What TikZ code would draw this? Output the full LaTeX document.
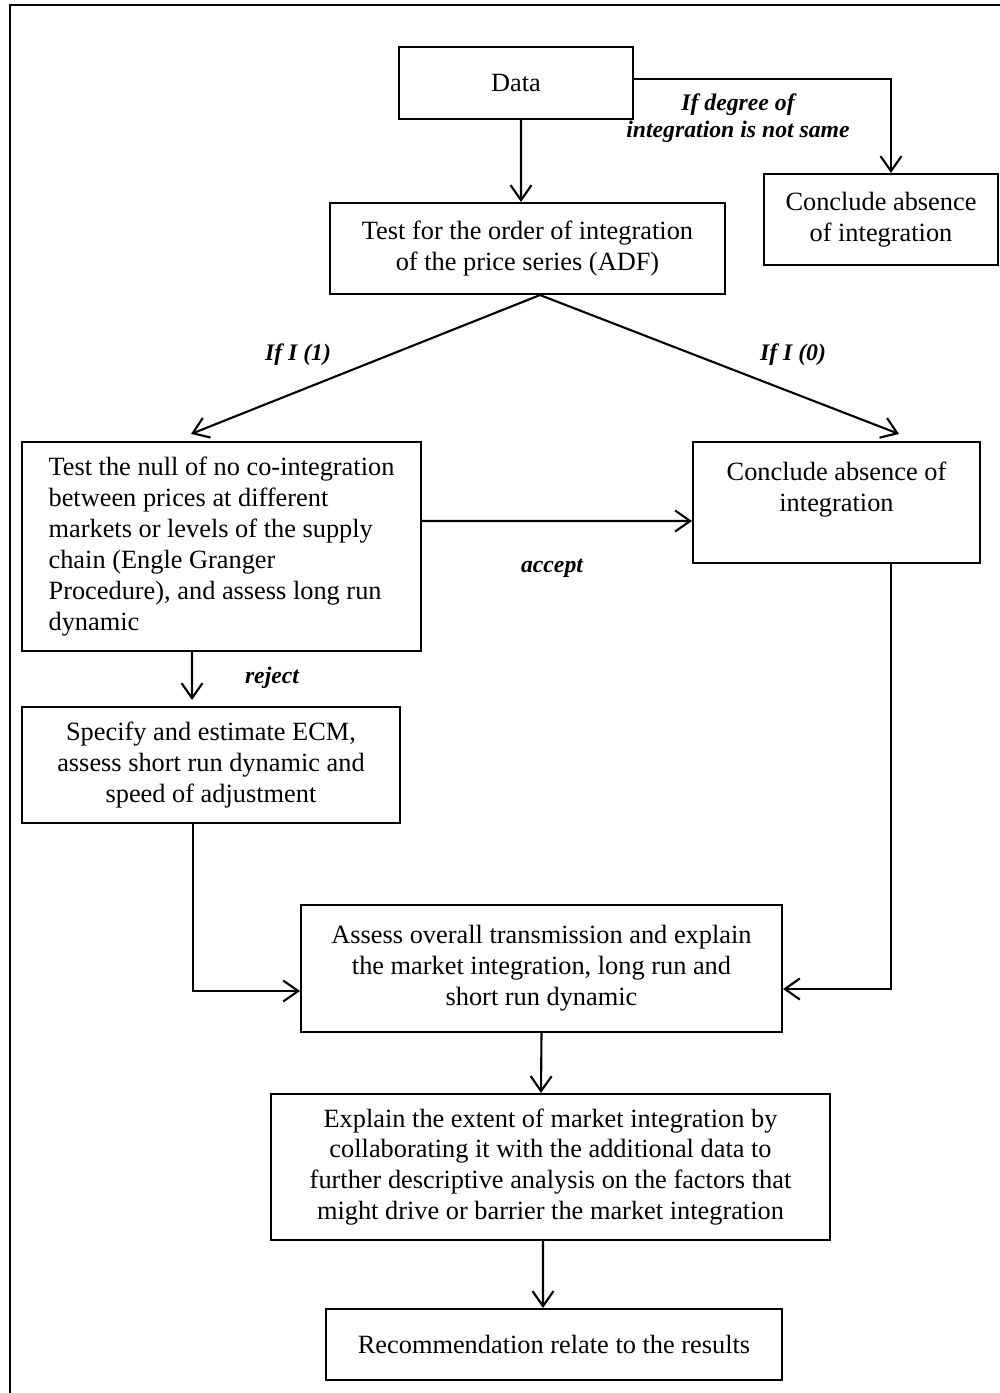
\documentclass[tikz,border=0pt]{standalone}
\usepackage{fontspec}
\setmainfont{Liberation Serif}
\usepackage{tikz}
\usetikzlibrary{arrows.meta, positioning, calc}

\begin{document}
\begin{tikzpicture}[x=0.02cm, y=-0.02cm,
    box/.style={draw, line width=1.2pt, align=center, inner sep=0pt, font=\fontsize{15}{17.6}\selectfont},
    lbl/.style={align=center, font=\fontsize{13.5}{15.5}\selectfont\bfseries\itshape},
    arr/.style={->, line width=1.2pt},
    >={Straight Barb[length=0.3cm, width=0.42cm]}]

        \useasboundingbox (0,0) rectangle (1000,1393);

        % Outer frame
        \draw[line width=1.4pt] (10,1400) -- (10,5) -- (1010,5);

        % Data
        \node[box, minimum width=4.68cm, minimum height=1.44cm] (data) at (516, 83) {Data};

        % Conclude absence (top right)
        \node[box, minimum width=4.68cm, minimum height=1.82cm] (absent1) at (881, 219.5) {Conclude absence\\of integration};
        \draw[arr] ([yshift=0.08cm]data.east) -| ([xshift=0.2cm]absent1.north);
        \node[lbl] (lblnotsame) at (738, 118) {If degree of\\integration is not same};

        % ADF test
        \node[box, minimum width=7.9cm, minimum height=1.82cm] (adf) at (527.5, 248.5) {Test for the order of integration\\of the price series (ADF)};
        \draw[arr] ([xshift=0.1cm]data.south) -- ([xshift=-0.13cm]adf.north);

        % Co-integration test
        \node[box, align=left, minimum width=7.98cm, minimum height=4.18cm] (coint) at (221.5, 546.5) {Test the null of no co-integration\\between prices at different\\markets or levels of the supply\\chain (Engle Granger\\Procedure), and assess long run\\dynamic};
        \draw[arr] ([xshift=0.25cm]adf.south) -- ([xshift=-0.61cm, yshift=0.14cm]coint.north);
        \node[lbl] (lblone) at (298, 355) {If I (1)};

        % Conclude absence (middle right)
        \node[box, minimum width=5.74cm, minimum height=2.42cm] (absent2) at (836.5, 502.5) {Conclude absence of\\integration\\\mbox{}};
        \draw[arr] ([xshift=0.25cm]adf.south) -- ([xshift=1.25cm, yshift=0.14cm]absent2.north);
        \node[lbl] (lblzero) at (793, 355) {If I (0)};

        % accept
        \draw[arr] ([yshift=0.51cm]coint.east) -- ([yshift=-0.37cm]absent2.west);
        \node[lbl] (lblaccept) at (552, 568) {accept};

        % ECM
        \node[box, minimum width=7.56cm, minimum height=2.32cm] (ecm) at (211, 765) {Specify and estimate ECM,\\assess short run dynamic and\\speed of adjustment};
        \draw[arr] ([xshift=-0.59cm]coint.south) -- ([xshift=-0.38cm, yshift=0.12cm]ecm.north);
        \node[lbl] (lblreject) at (272, 678) {reject};

        % Overall transmission
        \node[box, minimum width=9.62cm, minimum height=2.54cm] (assess) at (541.5, 968.5) {Assess overall transmission and explain\\the market integration, long run and\\short run dynamic};
        \draw[arr] ([xshift=-0.36cm]ecm.south) |- ([yshift=-0.45cm]assess.west);
        \draw[arr] ([xshift=1.09cm]absent2.south) |- ([yshift=-0.41cm]assess.east);

        % Extent of integration
        \node[box, minimum width=11.18cm, minimum height=2.92cm] (explain) at (550.5, 1167) {Explain the extent of market integration by\\collaborating it with the additional data to\\further descriptive analysis on the factors that\\might drive or barrier the market integration};
        \draw[arr] (assess.south) -- ([xshift=-0.19cm]explain.north);

        % Recommendation
        \node[box, minimum width=9.12cm, minimum height=1.42cm] (recom) at (554, 1344.5) {Recommendation relate to the results};
        \draw[arr] ([xshift=-0.15cm]explain.south) -- ([xshift=-0.22cm]recom.north);

\end{tikzpicture}
\end{document}
